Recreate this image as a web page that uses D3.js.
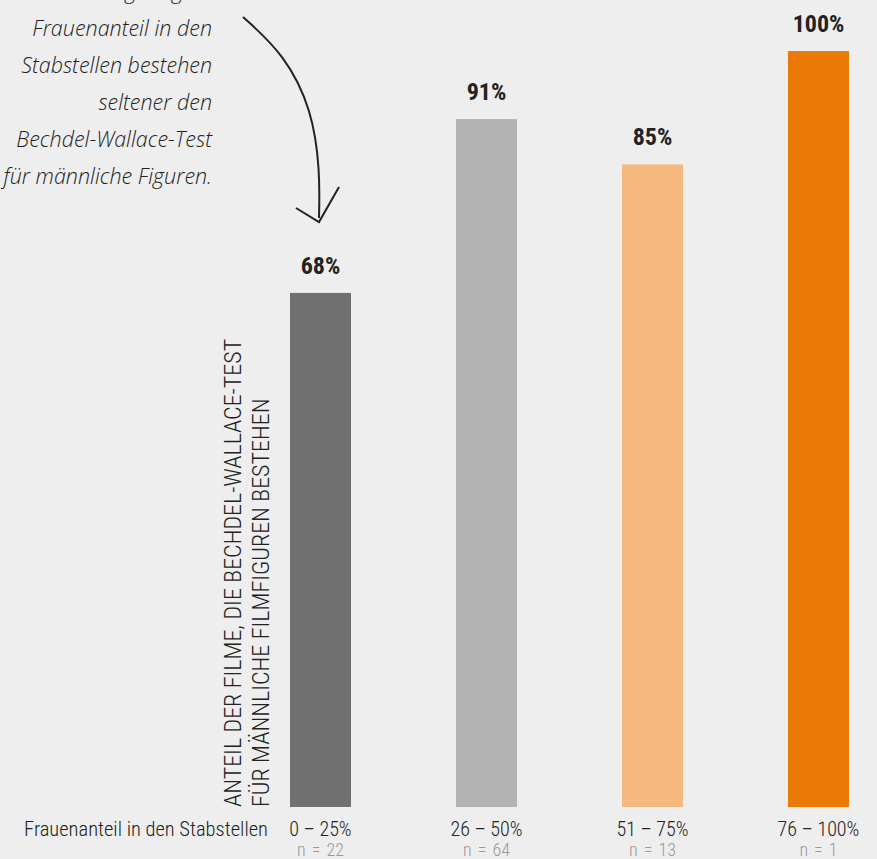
<!DOCTYPE html>
<html><head><meta charset="utf-8">
<script src="https://cdn.jsdelivr.net/npm/d3@7"></script>
<style>
html,body{margin:0;padding:0;background:#eeeeee;}
svg{display:block;}
</style></head>
<body>
<svg id="chart" width="877" height="859"></svg>
<script>
const categories = ["0 – 25%", "26 – 50%", "51 – 75%", "76 – 100%"];
const values = [68, 91, 85, 100];
const nLabels = ["n = 22", "n = 64", "n = 13", "n = 1"];
const colors = ["#707070", "#b3b3b3", "#f5b97f", "#eb7905"];
const xTitle = "Frauenanteil in den Stabstellen";
const yTitle = ["ANTEIL DER FILME, DIE BECHDEL-WALLACE-TEST", "FÜR MÄNNLICHE FILMFIGUREN BESTEHEN"];
const note = ["Filme mit geringem", "Frauenanteil in den", "Stabstellen bestehen", "seltener den", "Bechdel-Wallace-Test", "für männliche Figuren."];

const svg = d3.select("#chart");
const cond = "'Roboto Condensed','Liberation Sans Narrow',sans-serif";

const x = d3.scalePoint().domain(categories).range([320.5, 818.5]);
const y = d3.scaleLinear().domain([0, 100]).range([807, 51]);
const bw = 61;

svg.selectAll("rect.bar").data(values).join("rect")
  .attr("class", "bar")
  .attr("x", (d, i) => x(categories[i]) - bw / 2)
  .attr("width", bw)
  .attr("y", d => y(d))
  .attr("height", d => y(0) - y(d))
  .attr("fill", (d, i) => colors[i]);

svg.selectAll("text.val").data(values).join("text")
  .attr("class", "val")
  .attr("x", (d, i) => x(categories[i]))
  .attr("y", d => y(d) - 19)
  .attr("text-anchor", "middle")
  .style("font-family", cond).style("font-weight", "bold").style("font-size", "24px")
  .attr("fill", "#222")
  .text(d => d + "%");

svg.selectAll("text.cat").data(categories).join("text")
  .attr("class", "cat")
  .attr("x", d => x(d))
  .attr("y", 836)
  .attr("text-anchor", "middle")
  .style("font-family", cond).style("font-weight", "300").style("font-size", "20px")
  .attr("fill", "#222")
  .text(d => d);

svg.selectAll("text.n").data(nLabels).join("text")
  .attr("class", "n")
  .attr("x", (d, i) => x(categories[i]))
  .attr("y", 856)
  .attr("text-anchor", "middle")
  .style("font-family", cond).style("font-weight", "300").style("font-size", "18px")
  .style("word-spacing", "2px")
  .attr("fill", "#999")
  .text(d => d);

svg.append("text")
  .attr("x", 268).attr("y", 836)
  .attr("text-anchor", "end")
  .style("font-family", cond).style("font-weight", "300").style("font-size", "20.5px")
  .attr("fill", "#222")
  .text(xTitle);

const yt = svg.append("g");
yTitle.forEach((t, i) => {
  yt.append("text")
    .attr("transform", `translate(${241 + i * 28},807) rotate(-90)`)
    .attr("text-anchor", "start")
    .style("font-family", cond).style("font-weight", "300").style("font-size", "24px")
    .attr("fill", "#222")
    .text(t);
});

// annotation
const ann = svg.append("g");
note.forEach((t, i) => {
  ann.append("text")
    .attr("x", 212).attr("y", -1 + i * 37)
    .attr("text-anchor", "end")
    .style("font-family", "'Open Sans','DejaVu Sans',sans-serif")
    .style("font-style", "italic").style("font-weight", "300")
    .style("font-size", "21.5px")
    .attr("fill", "#222")
    .text(t);
});

const line = d3.line().curve(d3.curveBasis);
ann.append("path")
  .attr("d", line([[243, 17], [285, 55], [312, 110], [320, 170], [319, 218]]))
  .attr("fill", "none").attr("stroke", "#222").attr("stroke-width", 2);
ann.append("path")
  .attr("d", d3.line()([[296, 208], [319, 222], [339, 187]]))
  .attr("fill", "none").attr("stroke", "#222").attr("stroke-width", 2);
</script>
</body></html>
